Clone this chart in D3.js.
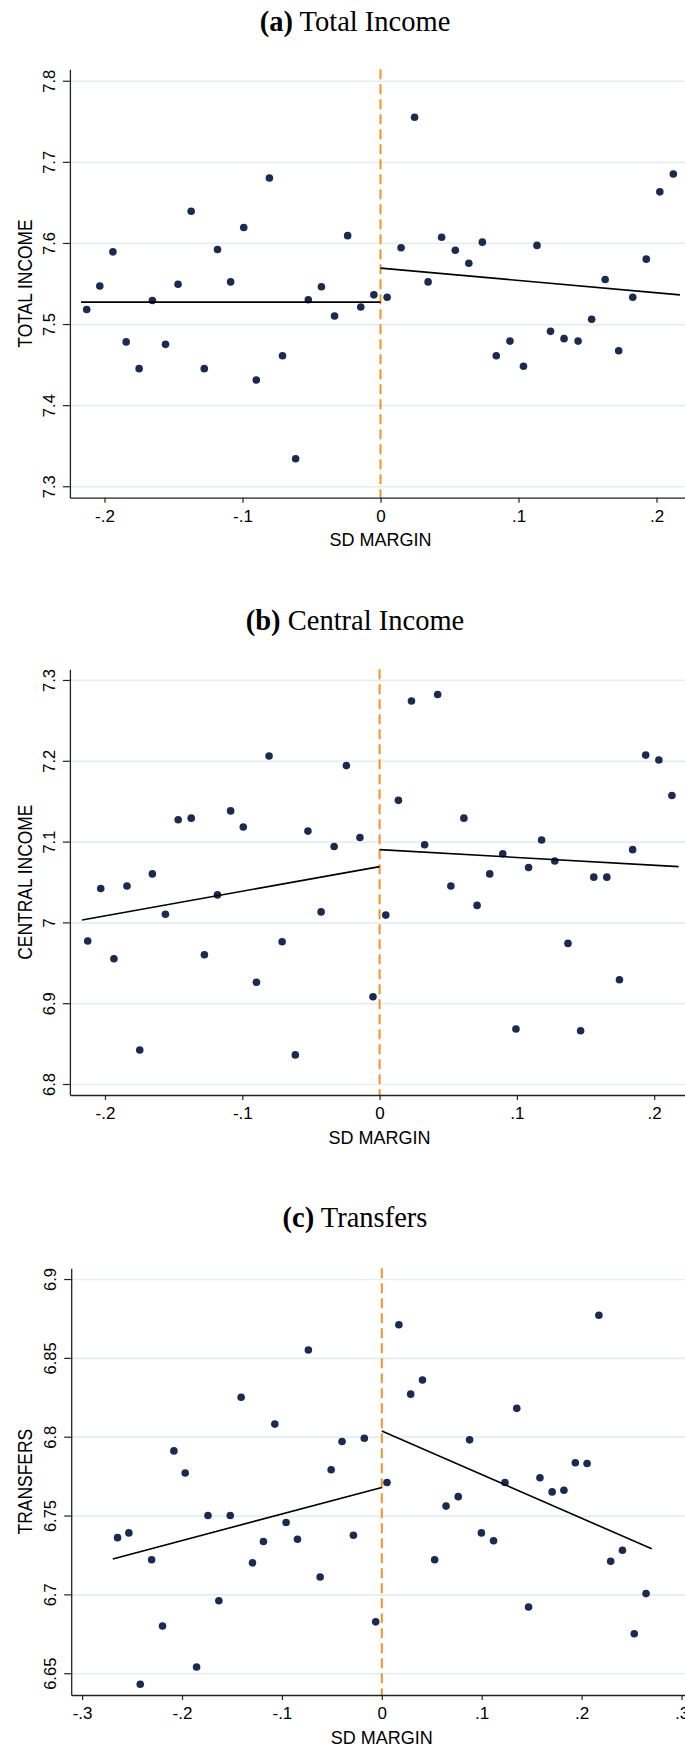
<!DOCTYPE html>
<html><head><meta charset="utf-8">
<script src="https://cdn.jsdelivr.net/npm/d3@7"></script>
<style>body{margin:0;background:#fff} svg{display:block}</style>
</head><body>
<script>
// ---------- Panel (a) Total Income ----------
const totalX = [-0.2129,-0.2034,-0.1939,-0.1843,-0.1749,-0.1653,-0.1558,-0.1467,-0.1372,-0.1277,-0.1181,-0.1086,-0.0991,-0.0900,-0.0805,-0.0710,-0.0615,-0.0523,-0.0428,-0.0333,-0.0238,-0.0143,-0.0048,
  0.0048,0.0149,0.0247,0.0345,0.0443,0.0542,0.0640,0.0738,0.0839,0.0938,0.1036,0.1134,0.1232,0.1330,0.1432,0.1530,0.1628,0.1726,0.1828,0.1926,0.2024,0.2122];
const totalY = [7.518,7.547,7.589,7.478,7.445,7.529,7.475,7.549,7.639,7.445,7.592,7.552,7.619,7.431,7.680,7.461,7.334,7.530,7.546,7.510,7.609,7.521,7.536,
  7.533,7.594,7.755,7.552,7.607,7.591,7.575,7.601,7.461,7.479,7.448,7.597,7.491,7.482,7.479,7.506,7.555,7.467,7.533,7.580,7.663,7.685];
const totalFitLeft = [[-0.217, 7.527], [0, 7.527]];
const totalFitRight = [[0, 7.569], [0.217, 7.536]];
const totalXTicks = [-0.2, -0.1, 0, 0.1, 0.2];
const totalYTicks = [7.3, 7.4, 7.5, 7.6, 7.7, 7.8];

// ---------- Panel (b) Central Income ----------
const centralX = [-0.2126,-0.2031,-0.1935,-0.1840,-0.1747,-0.1655,-0.1560,-0.1467,-0.1372,-0.1276,-0.1181,-0.1085,-0.0993,-0.0897,-0.0805,-0.0710,-0.0614,-0.0522,-0.0426,-0.0331,-0.0242,-0.0143,-0.0048,
  0.0045,0.0137,0.0232,0.0328,0.0423,0.0519,0.0614,0.0710,0.0802,0.0897,0.0993,0.1085,0.1180,0.1276,0.1372,0.1464,0.1560,0.1655,0.1747,0.1843,0.1938,0.2034,0.2129];
const centralY = [6.977,7.042,6.955,7.045,6.842,7.060,7.010,7.127,7.129,6.960,7.034,7.138,7.118,6.926,7.206,6.976,6.836,7.113,7.013,7.094,7.194,7.105,6.908,
  7.009,7.151,7.274,7.096,7.282,7.045,7.129,7.021,7.060,7.085,6.868,7.068,7.102,7.076,6.974,6.866,7.056,7.056,6.929,7.090,7.207,7.201,7.157];
const centralFitLeft = [[-0.2167, 7.003], [0, 7.069]];
const centralFitRight = [[0, 7.090], [0.2177, 7.069]];
const centralXTicks = [-0.2, -0.1, 0, 0.1, 0.2];
const centralYTicks = [6.8, 6.9, 7.0, 7.1, 7.2, 7.3];

// ---------- Panel (c) Transfers ----------
const transfersX = [-0.2645,-0.2532,-0.2418,-0.2304,-0.2195,-0.2081,-0.1968,-0.1854,-0.1740,-0.1631,-0.1517,-0.1408,-0.1294,-0.1185,-0.1071,-0.0958,-0.0844,-0.0735,-0.0617,-0.0507,-0.0398,-0.0284,-0.0175,-0.0061,
  0.0052,0.0171,0.0289,0.0407,0.0529,0.0643,0.0765,0.0879,0.0997,0.1119,0.1233,0.1351,0.1469,0.1583,0.1705,0.1823,0.1937,0.2055,0.2173,0.2291,0.2409,0.2527,0.2645];
const transfersY = [6.736,6.739,6.643,6.722,6.680,6.791,6.777,6.654,6.750,6.696,6.750,6.825,6.720,6.7335,6.808,6.7456,6.735,6.855,6.711,6.779,6.797,6.7375,6.799,6.6826,
  6.771,6.871,6.827,6.836,6.722,6.756,6.762,6.798,6.739,6.734,6.771,6.818,6.692,6.774,6.765,6.766,6.7835,6.783,6.877,6.721,6.728,6.675,6.7005];
const transfersFitLeft = [[-0.2693, 6.7225], [0, 6.7678]];
const transfersFitRight = [[0, 6.8036], [0.2702, 6.7289]];
const transfersXTicks = [-0.3, -0.2, -0.1, 0, 0.1, 0.2, 0.3];
const transfersYTicks = [6.65, 6.7, 6.75, 6.8, 6.85, 6.9];

const W = 685, H = 1746;
const svg = d3.select("body").append("svg").attr("width", W).attr("height", H);

const fmt = d => {
  if (Math.abs(d) < 1e-9) return "0";
  return String(+d.toFixed(3)).replace(/^(-?)0\./, "$1.");
};

const panels = [
  { letter: "(a)", name: " Total Income", ytitle: "TOTAL INCOME",
    X: totalX, Y: totalY, fitL: totalFitLeft, fitR: totalFitRight, xt: totalXTicks, yt: totalYTicks,
    titleY: 31, x0: 69.9, xZero: 380.5, xUnit: 1380, top: 69.3, bottom: 497.7, yDom: [7.2859, 7.8141] },
  { letter: "(b)", name: " Central Income", ytitle: "CENTRAL INCOME",
    X: centralX, Y: centralY, fitL: centralFitLeft, fitR: centralFitRight, xt: centralXTicks, yt: centralYTicks,
    titleY: 629.5, x0: 69.9, xZero: 379.6, xUnit: 1373, top: 669.3, bottom: 1095, yDom: [6.7864, 7.3132] },
  { letter: "(c)", name: " Transfers", ytitle: "TRANSFERS",
    X: transfersX, Y: transfersY, fitL: transfersFitLeft, fitR: transfersFitRight, xt: transfersXTicks, yt: transfersYTicks,
    titleY: 1227, x0: 71.2, xZero: 381.8, xUnit: 999, top: 1268.3, bottom: 1695, yDom: [6.6362, 6.9068] }
];

const gridColor = "#e6eef1", dotColor = "#1b2a4e", dashColor = "#ef9526", axisColor = "#222";

panels.forEach(p => {
  const half = (p.xZero - p.x0) / p.xUnit;
  const x = d3.scaleLinear().domain([-half, half]).range([p.x0, 2 * p.xZero - p.x0]);
  const y = d3.scaleLinear().domain(p.yDom).range([p.bottom, p.top]);
  const g = svg.append("g");

  // title
  const t = g.append("text").attr("x", 355).attr("y", p.titleY).attr("text-anchor", "middle")
    .attr("font-family", "'Liberation Serif','Times New Roman',serif").attr("font-size", 28.5).attr("fill", "#000");
  t.append("tspan").attr("font-weight", "bold").text(p.letter);
  t.append("tspan").text(p.name);

  // gridlines
  const grid = g.append("g").attr("transform", `translate(${p.x0},0)`)
    .call(d3.axisLeft(y).tickValues(p.yt).tickSize(-(W - p.x0)).tickFormat(""));
  grid.select(".domain").remove();
  grid.selectAll("line").attr("stroke", gridColor).attr("stroke-width", 1.7);

  // cutoff dashed line
  g.append("line").attr("x1", x(0)).attr("x2", x(0)).attr("y1", p.top).attr("y2", p.bottom)
    .attr("stroke", dashColor).attr("stroke-width", 2).attr("stroke-dasharray", "10,5");

  // dots
  g.append("g").selectAll("circle").data(p.X.map((v, i) => [v, p.Y[i]])).join("circle")
    .attr("cx", d => x(d[0])).attr("cy", d => y(d[1])).attr("r", 3.8).attr("fill", dotColor);

  // fit lines
  const line = d3.line().x(d => x(d[0])).y(d => y(d[1]));
  [p.fitL, p.fitR].forEach(f => g.append("path").attr("d", line(f)).attr("fill", "none")
    .attr("stroke", "#000").attr("stroke-width", 1.6));

  // x axis
  const xa = g.append("g").attr("transform", `translate(0,${p.bottom})`)
    .call(d3.axisBottom(x).tickValues(p.xt).tickSize(5).tickSizeOuter(0).tickPadding(6).tickFormat(fmt));
  xa.select(".domain").attr("stroke", axisColor).attr("stroke-width", 1.3);
  xa.selectAll(".tick line").attr("stroke", axisColor).attr("stroke-width", 1.2);
  xa.selectAll("text").attr("font-family", "'Liberation Sans',Arial,sans-serif").attr("font-size", 17)
    .attr("fill", "#000").attr("y", 24).attr("dy", null);

  // y axis
  const ya = g.append("g").attr("transform", `translate(${p.x0},0)`)
    .call(d3.axisLeft(y).tickValues(p.yt).tickSize(7).tickSizeOuter(0).tickFormat(fmt));
  ya.select(".domain").attr("stroke", axisColor).attr("stroke-width", 1.3);
  ya.selectAll(".tick line").attr("stroke", axisColor).attr("stroke-width", 1.2);
  ya.selectAll("text").attr("font-family", "'Liberation Sans',Arial,sans-serif").attr("font-size", 16.5)
    .attr("fill", "#000").attr("x", null).attr("dy", null).attr("text-anchor", "middle")
    .attr("transform", "translate(-15,0) rotate(-90)");

  // axis titles
  g.append("text").attr("x", x(0)).attr("y", p.bottom + 48.5).attr("text-anchor", "middle")
    .attr("font-family", "'Liberation Sans',Arial,sans-serif").attr("font-size", 18).attr("fill", "#000")
    .text("SD MARGIN");
  g.append("text").attr("text-anchor", "middle")
    .attr("transform", `translate(31.5,${(p.top + p.bottom) / 2}) rotate(-90) scale(0.83,1)`)
    .attr("font-family", "'Liberation Sans',Arial,sans-serif").attr("font-size", 21).attr("fill", "#000")
    .text(p.ytitle);
});
</script>
</body></html>
